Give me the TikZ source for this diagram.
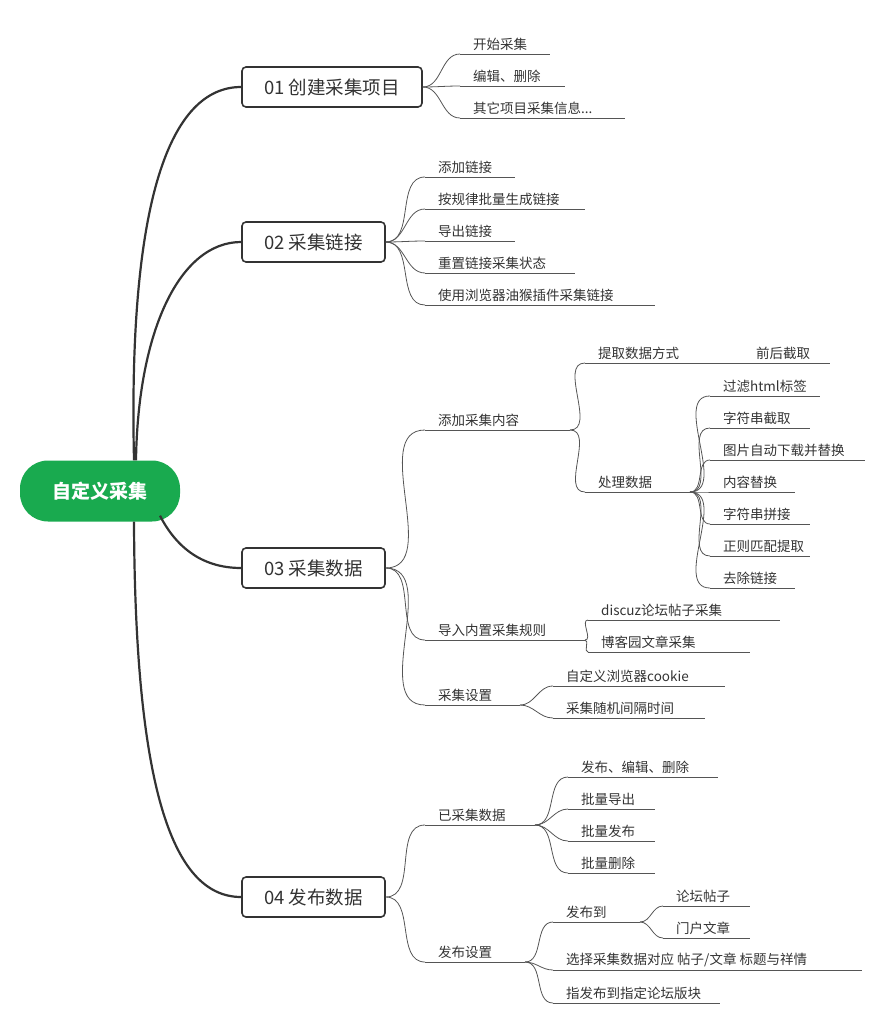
\documentclass[tikz,border=0pt]{standalone}
\usepackage{fontspec}
\setmainfont{Noto Sans CJK SC}
\usetikzlibrary{calc}
\definecolor{lc}{HTML}{555555}
\definecolor{dk}{HTML}{333333}
\definecolor{gr}{HTML}{19AA4F}
\tikzset{
 leaftext/.style={anchor=south west,inner sep=1pt,font=\fontsize{13.5}{14}\selectfont,text=dk},
 leafline/.style={draw=lc,line width=0.8pt},
 mainbox/.style={draw=dk,line width=1.6pt,rounded corners=4pt,fill=white,minimum height=40pt,font=\fontsize{18.5}{19}\selectfont,text=dk,inner xsep=0pt},
 rootbox/.style={fill=gr,rounded corners=28pt,minimum width=160pt,minimum height=61pt,font=\fontsize{19}{20}\selectfont\bfseries,text=white},
 trunk/.style={draw=dk,line width=2.2pt},
}
\newcommand\leaf[5]{%
 \coordinate (#1-s) at (#2,#4); \coordinate (#1-e) at (#3,#4);
 \node[leaftext] (#1) at (#2+12,#4-2) {#5};
 \draw[leafline] (#1-s)--(#1-e);}
\newcommand\conn[2]{\draw[leafline] (#1) to[out=0,in=180] (#2);}
\begin{document}
\begin{tikzpicture}[x=1pt,y=-1pt]
\useasboundingbox (0,0) rectangle (872,1019);
\node[rootbox] (root) at (100,491) {自定义采集};
\node[mainbox,minimum width=180pt] (m1) at (332,87) {01 创建采集项目};
\node[mainbox,minimum width=143pt] (m2) at (313.5,242) {02 采集链接};
\node[mainbox,minimum width=143pt] (m3) at (313.5,568) {03 采集数据};
\node[mainbox,minimum width=143pt] (m4) at (313.5,897) {04 发布数据};
\draw[trunk] (root.north)++(34,0) .. controls (128,200) and (170,87) .. (m1.west);
\draw[trunk] (root.north)++(36,0) .. controls (138,330) and (180,242) .. (m2.west);
\draw[trunk] (root.south)++(60,-6) .. controls (175,545) and (200,568) .. (m3.west);
\draw[trunk] (root.south)++(34,0) .. controls (135,780) and (170,897) .. (m4.west);
% 01
\leaf{a1}{460}{550}{54}{开始采集}
\leaf{a2}{460}{565}{86}{编辑、删除}
\leaf{a3}{460}{625}{118}{其它项目采集信息...}
\foreach \n in {a1-s,a2-s,a3-s} {\conn{m1.east}{\n}}
% 02
\leaf{b1}{425}{515}{177}{添加链接}
\leaf{b2}{425}{585}{209}{按规律批量生成链接}
\leaf{b3}{425}{515}{241}{导出链接}
\leaf{b4}{425}{575}{273}{重置链接采集状态}
\leaf{b5}{425}{655}{305}{使用浏览器油猴插件采集链接}
\foreach \n in {b1-s,b2-s,b3-s,b4-s,b5-s} {\conn{m2.east}{\n}}
% 03
\leaf{c1}{425}{570}{430}{添加采集内容}
\leaf{c2}{425}{585}{640}{导入内置采集规则}
\leaf{c3}{425}{520}{705}{采集设置}
\foreach \n in {c1-s,c2-s,c3-s} {\conn{m3.east}{\n}}
\leaf{d1}{585}{705}{363}{提取数据方式}
\leaf{d2}{585}{690}{492}{处理数据}
\conn{c1-e}{d1-s}\conn{c1-e}{d2-s}
\coordinate (e0-s) at (705,363); \coordinate (e0-e) at (830,363);
\node[leaftext] (e0) at (755,361) {前后截取};
\draw[leafline] (e0-s)--(e0-e);
\leaf{f1}{710}{820}{396}{过滤html标签}
\leaf{f2}{710}{810}{428}{字符串截取}
\leaf{f3}{710}{865}{460}{图片自动下载并替换}
\leaf{f4}{710}{795}{492}{内容替换}
\leaf{f5}{710}{810}{524}{字符串拼接}
\leaf{f6}{710}{810}{556}{正则匹配提取}
\leaf{f7}{710}{795}{588}{去除链接}
\foreach \n in {f1-s,f2-s,f3-s,f4-s,f5-s,f6-s,f7-s} {\conn{d2-e}{\n}}
\leaf{g1}{588}{780}{620}{discuz论坛帖子采集}
\leaf{g2}{588}{750}{652}{博客园文章采集}
\conn{c2-e}{g1-s}\conn{c2-e}{g2-s}
\leaf{h1}{553}{725}{686}{自定义浏览器cookie}
\leaf{h2}{553}{705}{718}{采集随机间隔时间}
\conn{c3-e}{h1-s}\conn{c3-e}{h2-s}
% 04
\leaf{i1}{425}{535}{825}{已采集数据}
\leaf{i2}{425}{525}{962}{发布设置}
\conn{m4.east}{i1-s}\conn{m4.east}{i2-s}
\leaf{j1}{568}{718}{777}{发布、编辑、删除}
\leaf{j2}{568}{655}{809}{批量导出}
\leaf{j3}{568}{655}{841}{批量发布}
\leaf{j4}{568}{655}{873}{批量删除}
\foreach \n in {j1-s,j2-s,j3-s,j4-s} {\conn{i1-e}{\n}}
\leaf{k1}{553}{640}{922}{发布到}
\leaf{k2}{553}{862}{970}{选择采集数据对应 帖子/文章 标题与祥情}
\leaf{k3}{553}{720}{1003}{指发布到指定论坛版块}
\foreach \n in {k1-s,k2-s,k3-s} {\conn{i2-e}{\n}}
\leaf{l1}{663}{750}{906}{论坛帖子}
\leaf{l2}{663}{750}{938}{门户文章}
\conn{k1-e}{l1-s}\conn{k1-e}{l2-s}
\end{tikzpicture}
\end{document}
